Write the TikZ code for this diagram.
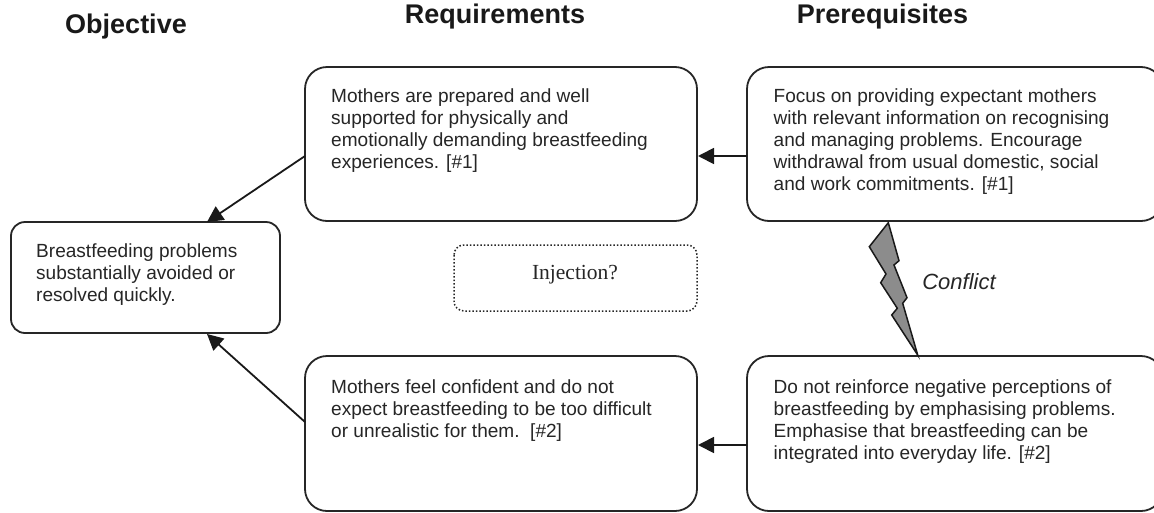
\documentclass[tikz,border=0pt]{standalone}
\usepackage{fontspec}
\setmainfont{Liberation Sans}
\newfontfamily\serifrm{Liberation Serif}
\usetikzlibrary{arrows.meta}
\tikzset{
 x=1pt,y=-1pt,
 boxa/.style={draw=black!85,line width=1.8pt,rounded corners=22pt,fill=white},
 boxb/.style={draw=black!85,line width=1.8pt,rounded corners=14pt,fill=white},
 txt/.style={anchor=north west,align=left,inner sep=0pt,font=\fontsize{19.05}{22.2}\selectfont,text=black!85},
 head/.style={anchor=center,inner sep=0pt,font=\fontsize{27}{31}\selectfont\bfseries,text=black!90},
 conn/.style={draw=black!90,line width=1.8pt,-{Triangle[length=16pt,width=16pt]}},
}
\begin{document}
\begin{tikzpicture}
\useasboundingbox (0,0) rectangle (1154,512);
\clip (0,0) rectangle (1154,512);
\node[head] (hobj) at (126,27) {Objective};
\node[head] (hreq) at (495,17) {Requirements};
\node[head] (hpre) at (882.5,17) {Prerequisites};
\path[boxb] (11,222) rectangle (280,333);
\path[boxa] (305,67) rectangle (697,221);
\path[boxa] (747,67) rectangle (1163,221);
\path[boxa] (305,356) rectangle (697,511);
\path[boxa] (747,356) rectangle (1163,511);
\coordinate (objt) at (207,222);
\coordinate (objb) at (207,334);
\coordinate (r1w) at (305,156);
\coordinate (r2w) at (305,422);
\coordinate (r1e) at (698,156);
\coordinate (r2e) at (698,445);
\coordinate (p1w) at (747,156);
\coordinate (p2w) at (747,445);
\node[txt] (tobj) at (36,243) {Breastfeeding problems\\substantially avoided or\\resolved quickly.};
\node[txt] (t1) at (331,88) {Mothers are prepared and well\\supported for physically and\\emotionally demanding breastfeeding\\experiences. [\#1]};
\node[txt] (t2) at (773.5,88) {Focus on providing expectant mothers\\with relevant information on recognising\\and managing problems. Encourage\\withdrawal from usual domestic, social\\and work commitments. [\#1]};
\node[txt] (t3) at (331,379) {Mothers feel confident and do not\\expect breastfeeding to be too difficult\\or unrealistic for them.\ \ [\#2]};
\node[txt] (t4) at (773.5,379) {Do not reinforce negative perceptions of\\breastfeeding by emphasising problems.\\Emphasise that breastfeeding can be\\integrated into everyday life. [\#2]};
\draw[conn] (r1w) -- (objt);
\draw[conn] (r2w) -- (objb);
\draw[conn] (p1w) -- (r1e);
\draw[conn] (p2w) -- (r2e);
\draw[draw=black!85,line width=1.5pt,dotted,rounded corners=10pt] (454,245) rectangle (697,311);
\node[inner sep=0pt,font=\serifrm\fontsize{21.5}{24}\selectfont,text=black!85] (inj) at (575,275) {Injection?};
\draw[draw=black!90,line width=1.5pt,fill=black!45,line join=miter]
 (888.3,222.7) -- (869.3,246.7) -- (886,274) -- (880.7,282.7) -- (897.3,308.3) -- (891.7,315) -- (917.7,355) -- (902.7,303.3) -- (907,297.7) -- (894,265) -- (899,260.7) -- cycle;
\node[inner sep=0pt,font=\itshape\fontsize{22}{26}\selectfont,text=black!85] (conf) at (959,282) {Conflict};
\end{tikzpicture}
\end{document}
